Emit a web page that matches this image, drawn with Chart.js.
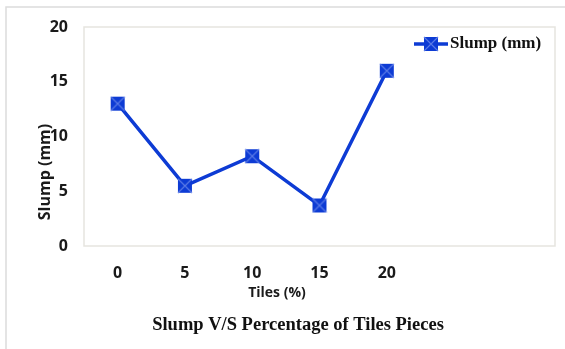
<!DOCTYPE html>
<html>
<head>
<meta charset="utf-8">
<script src="https://cdn.jsdelivr.net/npm/chart.js@4"></script>
<style>
  html, body { margin: 0; padding: 0; background: #fff; }
  #wrap { width: 565px; height: 349px; position: relative; }
</style>
</head>
<body>
<div id="wrap"><canvas id="line" width="565" height="349"></canvas></div>
<script>
var tiles = ["0", "5", "10", "15", "20", "", ""]
var slump = [13, 5.5, 8.2, 3.7, 16, null, null]
var yTicks = [0, 5, 10, 15, 20]

var seriesName = "Slump (mm)"
var xTitle = "Tiles (%)"
var yTitle = "Slump (mm)"
var chartTitle = "Slump V/S Percentage of Tiles Pieces"

var blue = "#0d3bd4"
var sans = "'Open Sans', sans-serif"
var serif = "'Liberation Serif', serif"

// square marker with an X, like the Excel one
function makeMarker(withLine) {
  var c = document.createElement("canvas")
  c.width = withLine ? 34 : 16
  c.height = 16
  var g = c.getContext("2d")
  var ox = withLine ? 9 : 0
  if (withLine) {
    g.strokeStyle = blue
    g.lineWidth = 3.5
    g.beginPath(); g.moveTo(0, 8); g.lineTo(34, 8); g.stroke()
  }
  g.fillStyle = blue
  g.fillRect(ox + 1, 1, 14, 14)
  g.strokeStyle = "#5a7ae6"
  g.lineWidth = 1.2
  g.beginPath()
  g.moveTo(ox + 1, 1); g.lineTo(ox + 15, 15)
  g.moveTo(ox + 15, 1); g.lineTo(ox + 1, 15)
  g.stroke()
  return c
}

var legendMarker = makeMarker(true)

var extras = {
  id: "extras",
  beforeDraw: function (chart) {
    var ctx = chart.ctx, a = chart.chartArea
    ctx.save()
    ctx.strokeStyle = "#dcdcdc"
    ctx.lineWidth = 1.5
    ctx.strokeRect(6, 7, 600, 400)
    ctx.strokeStyle = "#e6e5df"
    ctx.strokeRect(a.left, a.top, a.right - a.left, a.bottom - a.top)
    ctx.restore()
  },
  afterDraw: function (chart) {
    var ctx = chart.ctx
    ctx.save()
    ctx.fillStyle = "#1a1a1a"
    ctx.textBaseline = "middle"

    // y axis title
    ctx.save()
    ctx.translate(45, 172)
    ctx.rotate(-Math.PI / 2)
    ctx.font = "bold 16px " + sans
    ctx.textAlign = "center"
    ctx.fillText(yTitle, 0, 0)
    ctx.restore()

    // x axis title
    ctx.font = "bold 14px " + sans
    ctx.textAlign = "center"
    ctx.fillText(xTitle, 277, 293)

    // chart title
    ctx.fillStyle = "#111"
    ctx.font = "bold 18.5px " + serif
    ctx.fillText(chartTitle, 298, 325)

    // legend
    ctx.drawImage(legendMarker, 414, 36)
    ctx.font = "bold 17px " + serif
    ctx.textAlign = "left"
    ctx.fillText(seriesName, 450, 44)
    ctx.restore()
  }
}

var ctx = document.getElementById("line").getContext("2d")
var chart = new Chart(ctx, {
  type: "line",
  data: {
    labels: tiles,
    datasets: [{
      label: seriesName,
      data: slump,
      borderColor: blue,
      backgroundColor: blue,
      borderWidth: 3.5,
      pointStyle: makeMarker(false),
      tension: 0
    }]
  },
  options: {
    responsive: false,
    animation: false,
    layout: { padding: { left: 0, right: 10, top: 27, bottom: 0 } },
    plugins: {
      legend: { display: false },
      title: { display: false },
      tooltip: { enabled: false }
    },
    scales: {
      x: {
        offset: true,
        grid: { display: false, drawTicks: false },
        border: { display: false },
        ticks: { padding: 18, color: "#1a1a1a", font: { family: sans, size: 16, weight: "bold" }, autoSkip: false, maxRotation: 0 },
        afterFit: function (s) { s.height = 103 }
      },
      y: {
        min: 0,
        max: 20,
        grid: { display: false, drawTicks: false },
        border: { display: false },
        afterBuildTicks: function (s) { s.ticks = yTicks.map(function (v) { return { value: v } }) },
        ticks: { padding: 16, color: "#1a1a1a", font: { family: sans, size: 16, weight: "bold" } },
        afterFit: function (s) { s.width = 84 }
      }
    }
  },
  plugins: [extras]
})
</script>
</body>
</html>
